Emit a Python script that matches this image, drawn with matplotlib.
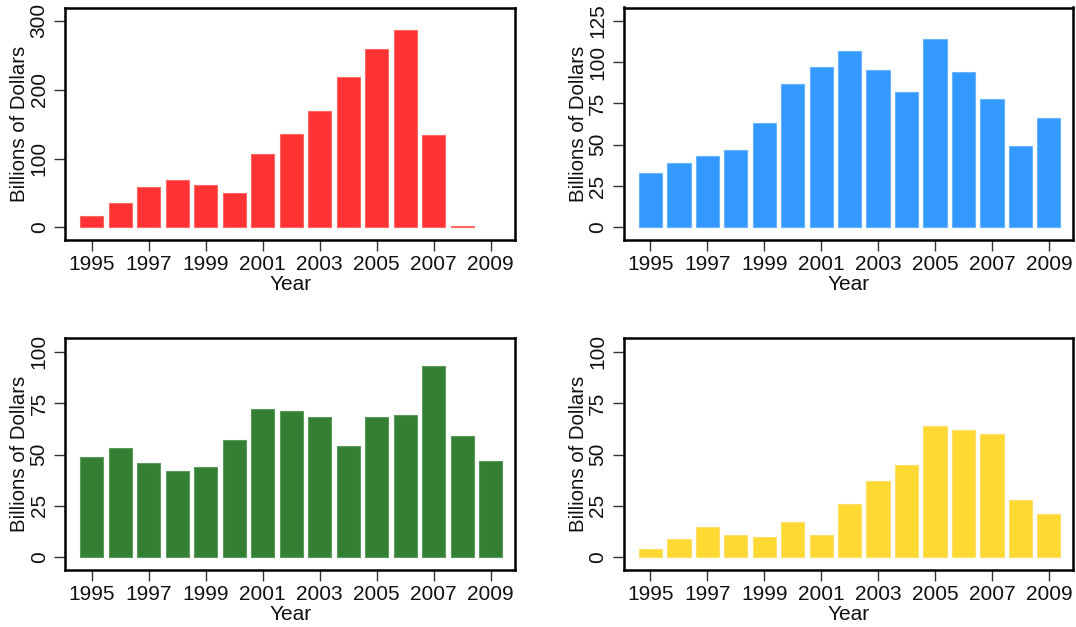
import matplotlib
matplotlib.use("Agg")
import matplotlib.pyplot as plt

years = list(range(1995, 2010))
red_values = [16, 35, 58, 69, 62, 50, 107, 135, 169, 219, 259, 287, 134, 2, 0]
blue_values = [33, 39, 43, 47, 63, 87, 97, 107, 95, 82, 114, 94, 78, 49, 66]
green_values = [49, 53, 46, 42, 44, 57, 72, 71, 68, 54, 68, 69, 93, 59, 47]
yellow_values = [4, 9, 15, 11, 10, 17, 11, 26, 37, 45, 64, 62, 60, 28, 21]

xtick_years = [1995, 1997, 1999, 2001, 2003, 2005, 2007, 2009]

panels = [
    dict(values=red_values, color="#FF3333", edge="#FF6666", ymax=300, yticks=[0, 100, 200, 300]),
    dict(values=blue_values, color="#3399FF", edge="#66B3FF", ymax=125, yticks=[0, 25, 50, 75, 100, 125]),
    dict(values=green_values, color="#338033", edge="#5C995C", ymax=100, yticks=[0, 25, 50, 75, 100]),
    dict(values=yellow_values, color="#FFD933", edge="#FFE066", ymax=100, yticks=[0, 25, 50, 75, 100]),
]

plt.rcParams['font.family'] = ['Liberation Sans', 'DejaVu Sans']

W, H = 1076, 627
fig = plt.figure(figsize=(W / 100, H / 100), dpi=100)

# axes boxes in pixels: (left, top, right, bottom)
boxes = [
    (65.3, 7.5, 515.3, 239.7),
    (624.0, 7.5, 1073.3, 239.7),
    (65.3, 338.3, 515.3, 569.7),
    (624.0, 338.3, 1073.3, 569.7),
]

for p, (l, t, r, b) in zip(panels, boxes):
    ax = fig.add_axes([l / W, (H - b) / H, (r - l) / W, (b - t) / H])
    vals = p["values"]
    xs = [y for y, v in zip(years, vals) if v > 0]
    vs = [v for v in vals if v > 0]
    ax.bar(xs, vs, width=0.82, color=p["color"], edgecolor=p["edge"], linewidth=0.8)
    M = p["ymax"]
    ax.set_ylim(-0.06 * M, 1.065 * M)
    ax.set_xlim(1994.07, 2009.86)
    ax.set_xticks(xtick_years)
    ax.set_xticklabels([str(y) for y in xtick_years])
    ax.set_yticks(p["yticks"])
    ax.set_yticklabels([str(v) for v in p["yticks"]], rotation=90, va="center")
    ax.tick_params(axis="both", direction="out", length=8, width=1.0, color="#333333",
                   labelsize=15, labelcolor="#111111")
    ax.tick_params(axis="x", pad=3)
    ax.tick_params(axis="y", pad=4)
    for s in ax.spines.values():
        s.set_linewidth(1.8)
        s.set_color("black")
    ax.set_xlabel("Year", fontsize=15, labelpad=1, color="#111111")
    ax.set_ylabel("Billions of Dollars", fontsize=14.7, labelpad=0.5, color="#111111")

fig.savefig("out.png", dpi=100)
